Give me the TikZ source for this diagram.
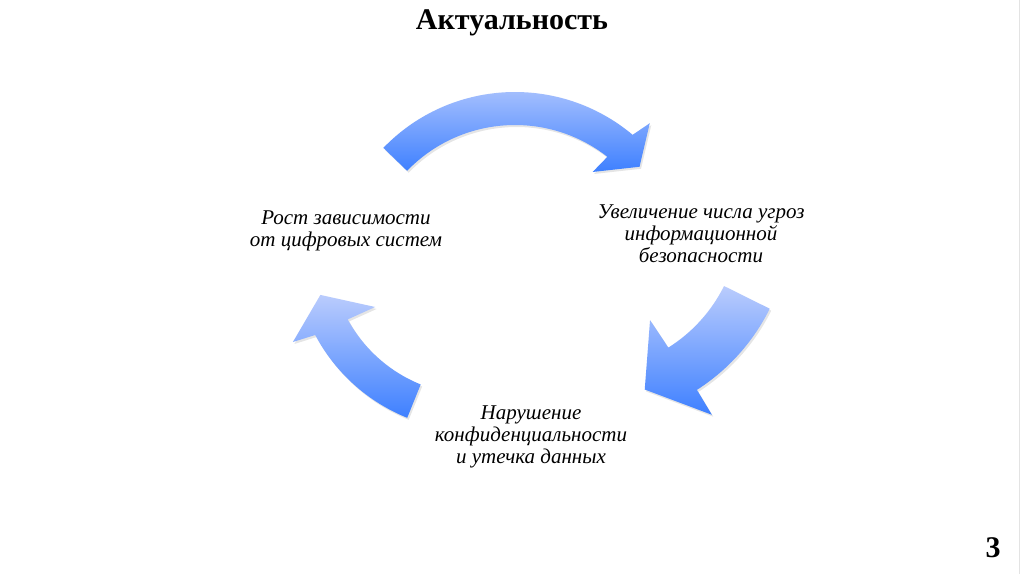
\documentclass[tikz,border=0pt]{standalone}
\usepackage{fontspec}
\setmainfont{Liberation Serif}
\usetikzlibrary{calc}
\definecolor{arrLight}{RGB}{186,204,253}
\definecolor{arrDark}{RGB}{62,128,255}
\tikzset{
  cyclearrow/.style={top color=arrLight, bottom color=arrDark, draw=none,
    preaction={fill=black, fill opacity=0.10, transform canvas={xshift=1.5pt, yshift=-2pt}}},
  steptext/.style={font=\itshape\fontsize{21}{22}\selectfont, align=center, inner sep=0pt},
}
\begin{document}
\begin{tikzpicture}[x=1pt,y=-1pt]
\useasboundingbox (0,0) rectangle (1024,574);
\fill[white] (0,0) rectangle (1024,574);
\draw[gray!22, line width=1pt] (1019.5,0) -- (1019.5,574);

\coordinate (ct) at (515,275);
\coordinate (cr) at (587,218);
\coordinate (cl) at (475,250);

% top arrow
\path[cyclearrow] ($(ct)+(-136:183)$) arc[start angle=-136,end angle=-50,radius=183]
  -- ($(ct)+(-48.4:203)$) -- ($(ct)+(-41:165)$) -- ($(ct)+(-53:129)$)
  -- ($(ct)+(-52:150)$) arc[start angle=-52,end angle=-136,radius=150] -- cycle;
% right arrow
\path[cyclearrow] ($(cr)+(26.4:204)$) arc[start angle=26.4,end angle=57.4,radius=204]
  -- ($(cr)+(57.6:233)$) -- ($(cr)+(71.4:181)$) -- ($(cr)+(58.3:120)$)
  -- ($(cr)+(57.9:153)$) arc[start angle=57.9,end angle=26.4,radius=153] -- cycle;
% left arrow
\path[cyclearrow] ($(cl)+(112:181)$) arc[start angle=112,end angle=152,radius=181]
  -- ($(cl)+(153.2:204)$) -- ($(cl)+(163.8:161)$) -- ($(cl)+(150.3:115)$)
  -- ($(cl)+(151.4:145)$) arc[start angle=151.4,end angle=112,radius=145] -- cycle;

\node[font=\bfseries\fontsize{30}{34}\selectfont, anchor=base] (title) at (512,29) {Актуальность};
\node[steptext] (n1) at (346,231) {Рост зависимости\\от цифровых систем};
\node[steptext] (n2) at (701,234) {Увеличение числа угроз\\информационной\\безопасности};
\node[steptext] (n3) at (531,437) {Нарушение\\конфиденциальности\\и утечка данных};
\node[font=\bfseries\fontsize{30}{30}\selectfont, anchor=base] (pnum) at (993,557) {3};
\end{tikzpicture}
\end{document}
